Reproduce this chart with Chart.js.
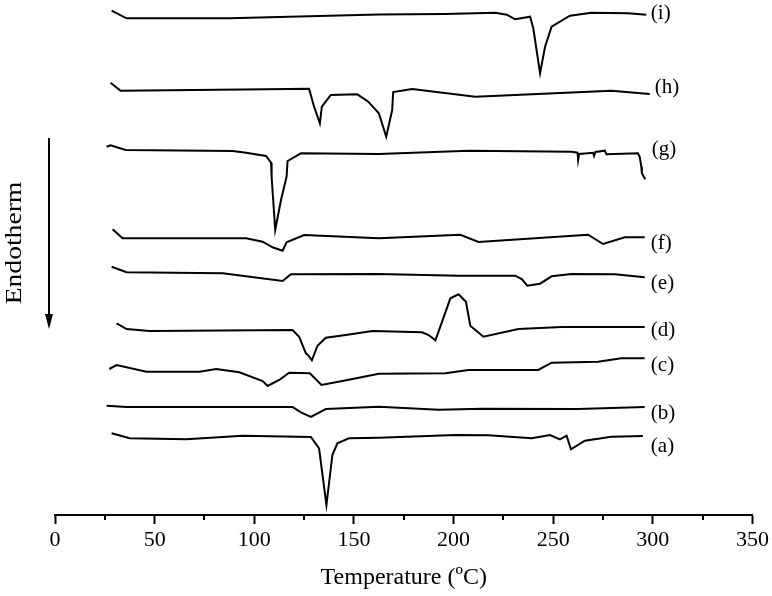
<!DOCTYPE html>
<html>
<head>
<meta charset="utf-8">
<script src="https://cdn.jsdelivr.net/npm/chart.js@4.4.1/dist/chart.umd.min.js"></script>
<style>
  html, body { margin: 0; padding: 0; background: #fff; }
  #wrap { width: 772px; height: 596px; position: relative; }
</style>
</head>
<body>
<div id="wrap"><canvas id="c"></canvas></div>
<script>
// Temperature (°C) vs heat-flow signal (arbitrary units, curves stacked with offsets)
const curveA = [[28.4,81.7],[37.5,76.7],[65.9,75.7],[94.2,79.3],[128.4,78],[132.5,66.7],[136.2,10],[139.2,60],[141.7,71.7],[147.5,76.7],[162.5,77.3],[200.9,80],[217.5,79.7],[239.2,76.7],[248.4,80],[253.4,75.7],[256.7,79.3],[258.9,65.7],[265.9,74.3],[279.2,78.3],[295,79]];
const curveB = [[25.9,109.3],[35.9,108],[119.2,108],[123.4,102.7],[128.4,98],[135.9,106],[162.5,108.3],[192.5,105.3],[214.2,106.3],[262.5,106],[295.9,108]];
const curveC = [[27.2,146],[30.9,150],[45.9,143.3],[72.5,143.3],[80.9,146],[92.5,142.7],[104.2,134],[106.7,129],[112.5,135],[117.5,142.3],[127.9,141.7],[133.7,130],[144.2,134],[162.5,141.3],[195.9,141.7],[207.5,145],[242.5,145],[249.2,152.3],[272.5,153.3],[284.2,156.7],[295.9,156.7]];
const curveD = [[30.9,191.7],[35.9,186],[47.5,184],[119.2,185],[122.5,178.3],[125.9,161.7],[126.9,160],[128.9,154.7],[131.7,169.3],[135.9,177.3],[145.9,180],[159.2,184],[184.2,182.7],[187.5,180],[190.9,174.7],[198.4,216.7],[202.5,220.7],[206.2,213.3],[208.4,189.3],[215,178.3],[232.5,186],[254.2,188],[295.9,188]];
const curveE = [[28.4,248.3],[35.9,242.7],[84.2,241.7],[114.2,234],[118.4,240.7],[162.5,241],[202.5,239.3],[230.9,239.3],[234.2,236],[237,229.3],[243.4,231.3],[249.2,238.7],[259.2,241],[280.9,240.7],[295.9,237.7]];
const curveF = [[28.9,285.7],[33.9,276.7],[95.9,276.7],[104.2,273.3],[109.2,267.7],[114.2,264.3],[116.2,272.7],[125,280],[162.5,276.7],[203.4,280.3],[212.5,273],[267.5,280.3],[275,271],[285.9,277.7],[295.9,277.7]];
const curveG = [[25.9,368.3],[27.9,369.7],[35.5,365],[89.2,364],[95.9,362.3],[105.9,359],[108.4,352.3],[108.7,338.3],[110.5,285],[113.4,315],[116.2,338.3],[116.7,354],[123.4,361.7],[162.5,361],[207.5,364.3],[259.2,363.3],[262.2,362.3],[262.5,355],[263,361],[270,362.3],[270.5,359],[271.2,363],[275.9,364.3],[276.7,360.7],[292.5,361.7],[293.4,358.3],[294.2,348.3],[294.5,341.7],[295.5,338.3],[296.2,335.7]];
const curveH = [[27.9,432.3],[32.9,424.3],[105.9,425.7],[127.5,426.3],[130,408.3],[132.9,391.7],[133.9,408.3],[138.4,420],[151.7,420.7],[157.2,413.3],[162.5,401.7],[166.2,378.3],[169.2,405],[169.7,423],[179.2,426],[210.9,418.3],[279.2,424.3],[298.4,421]];
const curveI = [[28.4,504.3],[35.9,496.7],[87.5,496.7],[162.5,500.5],[195.9,501],[220.9,502.3],[226.7,500.3],[230.9,495.7],[238.4,498.3],[240,486.7],[243.4,441.7],[245.9,468.3],[249.2,488.3],[258.4,499.3],[269.2,502.3],[287.5,501.7],[296.7,500.3]];

const curves = [curveA, curveB, curveC, curveD, curveE, curveF, curveG, curveH, curveI];
const curveNames = ['(a)','(b)','(c)','(d)','(e)','(f)','(g)','(h)','(i)'];
// label anchors (temperature, signal)
const labelTemps = [299, 299, 299, 299, 299, 299, 299.5, 301, 299];
const labelSignals = [69, 102, 150, 185, 232, 272, 366, 428, 502];

const xTicks = [0, 50, 100, 150, 200, 250, 300, 350];
const xMinorTicks = [25, 75, 125, 175, 225, 275, 325];

const serif = "'Liberation Serif', 'Times New Roman', 'DejaVu Serif', serif";

const decorPlugin = {
  id: 'decor',
  afterDraw(chart) {
    const ctx = chart.ctx;
    const xs = chart.scales.x;
    const ys = chart.scales.y;
    ctx.save();
    // minor ticks
    ctx.strokeStyle = '#000';
    ctx.lineWidth = 2;
    xMinorTicks.forEach(v => {
      const px = Math.round(xs.getPixelForValue(v));
      ctx.beginPath();
      ctx.moveTo(px, xs.top);
      ctx.lineTo(px, xs.top + 5);
      ctx.stroke();
    });
    // curve labels
    ctx.fillStyle = '#000';
    ctx.font = "21px " + serif;
    ctx.textAlign = 'left';
    ctx.textBaseline = 'middle';
    curveNames.forEach((n, i) => {
      ctx.fillText(n, xs.getPixelForValue(labelTemps[i]), ys.getPixelForValue(labelSignals[i]));
    });
    // Endotherm arrow
    const ax = 49;
    ctx.beginPath();
    ctx.moveTo(ax, 138);
    ctx.lineTo(ax, 318);
    ctx.lineWidth = 2;
    ctx.stroke();
    ctx.beginPath();
    ctx.moveTo(ax - 4, 314);
    ctx.lineTo(ax + 4, 314);
    ctx.lineTo(ax, 329);
    ctx.closePath();
    ctx.fill();
    // Endotherm text
    ctx.translate(15, 243);
    ctx.rotate(-Math.PI / 2);
    ctx.scale(1.15, 1);
    ctx.font = "24px " + serif;
    ctx.textAlign = 'center';
    ctx.textBaseline = 'middle';
    ctx.fillText('Endotherm', 0, 0);
    ctx.restore();
  }
};

new Chart(document.getElementById('c'), {
  type: 'line',
  data: {
    datasets: curves.map((c, i) => ({
      label: curveNames[i],
      data: c.map(p => ({x: p[0], y: p[1]})),
      borderColor: '#000',
      borderWidth: 2,
      pointRadius: 0,
      tension: 0,
      fill: false
    }))
  },
  options: {
    responsive: true,
    maintainAspectRatio: false,
    animation: false,
    layout: { padding: { left: 55, right: 18, top: 0, bottom: 0 } },
    plugins: { legend: { display: false }, tooltip: { enabled: false } },
    scales: {
      x: {
        type: 'linear',
        min: 0, max: 350,
        afterBuildTicks: (s) => { s.ticks = xTicks.map(v => ({value: v})); },
        afterFit: (s) => { s.height = 81; },
        ticks: {
          color: '#000',
          font: { family: serif, size: 22 },
          padding: 3,
          maxRotation: 0,
          autoSkip: false
        },
        grid: {
          drawOnChartArea: false,
          drawTicks: true,
          tickLength: 9,
          tickWidth: 2,
          tickColor: '#000'
        },
        border: { display: true, color: '#000', width: 2 },
        title: {
          display: true,
          text: 'Temperature (ºC)',
          color: '#000',
          font: { family: serif, size: 24 },
          padding: { top: 4, bottom: 4 }
        }
      },
      y: {
        type: 'linear',
        display: false,
        min: 0, max: 515
      }
    }
  },
  plugins: [decorPlugin]
});
</script>
</body>
</html>
